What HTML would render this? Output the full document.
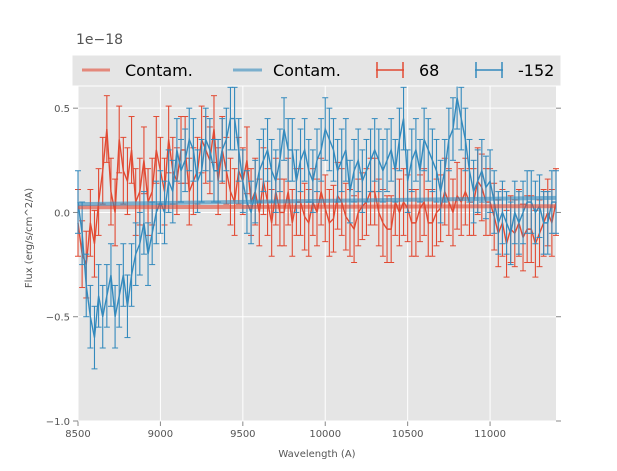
<!DOCTYPE html>
<html><head><meta charset="utf-8"><style>
body{margin:0;background:#fff;font-family:"DejaVu Sans","Liberation Sans",sans-serif}
svg text{font-family:"DejaVu Sans","Liberation Sans",sans-serif}
</style></head><body>
<svg id="c" width="617" height="467"></svg>
<script>
const wavelengths=[8500,8525,8550,8575,8600,8625,8650,8675,8700,8725,8750,8775,8800,8825,8850,8875,8900,8925,8950,8975,9000,9025,9050,9075,9100,9125,9150,9175,9200,9225,9250,9275,9300,9325,9350,9375,9400,9425,9450,9475,9500,9525,9550,9575,9600,9625,9650,9675,9700,9725,9750,9775,9800,9825,9850,9875,9900,9925,9950,9975,10000,10025,10050,10075,10100,10125,10150,10175,10200,10225,10250,10275,10300,10325,10350,10375,10400,10425,10450,10475,10500,10525,10550,10575,10600,10625,10650,10675,10700,10725,10750,10775,10800,10825,10850,10875,10900,10925,10950,10975,11000,11025,11050,11075,11100,11125,11150,11175,11200,11225,11250,11275,11300,11325,11350,11375,11400];
const flux68=[-0.05,-0.2,-0.25,-0.05,-0.15,0.05,0.2,0.4,0.1,0.0,0.35,0.2,0.15,0.3,0.05,0.1,0.25,0.05,0.1,0.3,0.2,0.1,0.35,0.2,0.15,0.3,0.3,0.1,0.15,0.2,0.35,0.3,0.25,0.4,0.15,0.3,0.2,0.1,0.05,0.2,0.15,0.25,0.05,0.1,0.0,0.15,0.05,-0.05,0.1,0.0,0.0,0.1,-0.05,0.05,0.05,-0.02,-0.05,0.05,0.0,0.1,0.02,-0.05,-0.03,0.08,0.05,-0.02,-0.05,-0.08,0.0,0.03,0.05,0.1,0.1,0.0,-0.05,-0.08,-0.08,0.05,0.0,0.05,0.02,-0.05,-0.05,0.02,0.05,-0.05,-0.05,0.0,0.02,0.1,0.05,0.0,0.08,0.05,0.1,0.05,0.05,0.15,0.12,0.05,0.05,-0.02,-0.1,-0.05,-0.15,-0.08,-0.1,-0.05,-0.12,-0.08,-0.08,-0.15,-0.1,-0.05,0.0,-0.05,0.05];
const flux152=[0.05,-0.1,-0.35,-0.5,-0.6,-0.4,-0.5,-0.4,-0.3,-0.5,-0.4,-0.3,-0.45,-0.3,-0.2,-0.15,-0.05,-0.2,-0.1,0.0,0.05,0.0,0.15,0.1,0.3,0.2,0.25,0.35,0.3,0.15,0.2,0.35,0.3,0.2,0.2,0.3,0.35,0.45,0.45,0.3,0.15,0.05,0.0,0.1,0.2,0.25,0.3,0.2,0.15,0.25,0.4,0.3,0.3,0.15,0.25,0.3,0.2,0.15,0.25,0.3,0.4,0.35,0.3,0.2,0.25,0.3,0.1,0.2,0.25,0.15,0.2,0.25,0.3,0.25,0.2,0.25,0.3,0.2,0.35,0.45,0.15,0.25,0.3,0.2,0.35,0.3,0.25,0.2,0.1,0.2,0.35,0.4,0.55,0.45,0.35,0.2,0.1,0.15,0.2,0.12,0.15,0.05,-0.05,0.0,-0.05,-0.1,0.0,-0.05,0.0,0.05,0.05,0.0,0.03,-0.05,-0.05,0.05,0.05];
const err68=0.16, err152=0.15;
const contamWave=[8500,11400];
const contam68=[0.025,0.03];
const contam152=[0.04,0.07];
const xTicks=[8500,9000,9500,10000,10500,11000];
const yTicks=[-1.0,-0.5,0.0,0.5];
const yTickLabels=["\u22121.0","\u22120.5","0.0","0.5"];

const L=78,R=556,T=55,B=421,x0=8500,x1=11400,y0=-1.0,y1=0.755;
const X=v=>L+(v-x0)/(x1-x0)*(R-L);
const Y=v=>B-(v-y0)/(y1-y0)*(B-T);
const svg=document.getElementById('c'),NS='http://www.w3.org/2000/svg';
function mk(t,a,p){const e=document.createElementNS(NS,t);for(const k in a)e.setAttribute(k,a[k]);(p||svg).appendChild(e);return e;}
const bg=mk('rect',{x:L,y:T,width:R-L,height:B-T,fill:'#e5e5e5'});


xTicks.forEach(t=>{mk('line',{x1:X(t),x2:X(t),y1:T,y2:B,stroke:'#fff','stroke-width':1});
 mk('line',{x1:X(t),x2:X(t),y1:B,y2:B+5,stroke:'#888'});
 const tx=mk('text',{x:X(t),y:B+16,'font-size':10,fill:'#555','text-anchor':'middle'});tx.textContent=t;
 
 });
yTicks.forEach((t,i)=>{mk('line',{x1:L,x2:R,y1:Y(t),y2:Y(t),stroke:'#fff','stroke-width':1});
 mk('line',{x1:L-5,x2:L,y1:Y(t),y2:Y(t),stroke:'#888'});
 mk('line',{x1:R,x2:R+5,y1:Y(t),y2:Y(t),stroke:'#888'});
 const tx=mk('text',{x:L-8,y:Y(t)+4,'font-size':10,fill:'#555','text-anchor':'end'});tx.textContent=yTickLabels[i];
 
 });
function series(vals,err,col,name){
 const g=mk('g',{});
 
 
 vals.forEach((v,i)=>{const x=X(wavelengths[i]);
  mk('line',{x1:x,x2:x,y1:Y(v-err),y2:Y(v+err),stroke:col,'stroke-width':1.1},g);
  mk('line',{x1:x-3,x2:x+3,y1:Y(v-err),y2:Y(v-err),stroke:col,'stroke-width':1},g);
  mk('line',{x1:x-3,x2:x+3,y1:Y(v+err),y2:Y(v+err),stroke:col,'stroke-width':1},g);});
 mk('polyline',{points:vals.map((v,i)=>X(wavelengths[i])+','+Y(v)).join(' '),fill:'none',stroke:col,'stroke-width':1.4},g);
}
series(flux68,err68,'#e24a33','series-68');
series(flux152,err152,'#348abd','series-152');
[[contam68,'#e24a33','contam-68-line'],[contam152,'#348abd','contam-152-line']].forEach(([c,col,n])=>{
 const p=mk('polyline',{points:c.map((v,i)=>X(contamWave[i])+','+Y(v)).join(' '),fill:'none',stroke:col,'stroke-width':4,'stroke-opacity':0.6});
 
 });
</script>
<svg style="position:absolute;left:0;top:0" width="617" height="467">
<g>
<rect x="72" y="55" width="489" height="31" fill="#e5e5e5" stroke="#fff" stroke-width="1"/>
<line x1="82" x2="110" y1="70" y2="70" stroke="#e24a33" stroke-opacity="0.6" stroke-width="3"/>
<text x="125" y="76" font-size="16" fill="#000">Contam.</text>
<line x1="233" x2="262" y1="70" y2="70" stroke="#348abd" stroke-opacity="0.6" stroke-width="3"/>
<text x="273" y="76" font-size="16" fill="#000">Contam.</text>
<g stroke="#e24a33" stroke-width="1.5"><line x1="376" x2="404" y1="70" y2="70"/><line x1="377" x2="377" y1="62" y2="78"/><line x1="403" x2="403" y1="62" y2="78"/></g>
<text x="419" y="76" font-size="16" fill="#000">68</text>
<g stroke="#348abd" stroke-width="1.5"><line x1="475" x2="503" y1="70" y2="70"/><line x1="476" x2="476" y1="62" y2="78"/><line x1="502" x2="502" y1="62" y2="78"/></g>
<text x="518" y="76" font-size="16" fill="#000">-152</text>
</g>
<text x="76" y="44" font-size="14" fill="#555">1e−18</text>
<text x="317" y="457" font-size="10" fill="#555" text-anchor="middle">Wavelength (A)</text>
<text transform="translate(32,238) rotate(-90)" font-size="10" fill="#555" text-anchor="middle">Flux (erg/s/cm^2/A)</text>
</svg>
</body></html>
